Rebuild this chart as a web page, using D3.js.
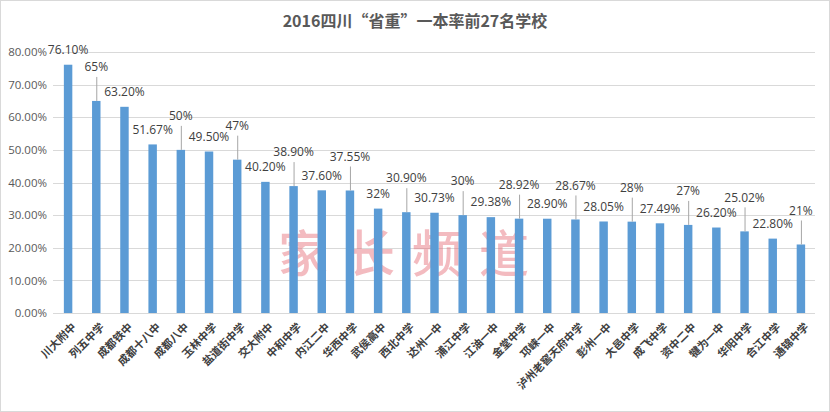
<!DOCTYPE html>
<html><head><meta charset="utf-8">
<script src="https://cdn.jsdelivr.net/npm/d3@7"></script>
<style>
html,body{margin:0;padding:0;background:#fff;}
svg{display:block;}
</style></head>
<body>
<svg id="chart" width="830" height="412"></svg>
<script>
const title = "2016四川“省重”一本率前27名学校";
const schools = ["川大附中","列五中学","成都铁中","成都十八中","成都八中","玉林中学","盐道街中学","交大附中","中和中学","内江二中","华西中学","武侯高中","西北中学","达州一中","浦江中学","江油一中","金堂中学","邛崃一中","泸州老窖天府中学","彭州一中","大邑中学","成飞中学","资中二中","犍为一中","华阳中学","合江中学","通锦中学"];
const rates = [76.10,65,63.20,51.67,50,49.50,47,40.20,38.90,37.60,37.55,32,30.90,30.73,30,29.38,28.92,28.90,28.67,28.05,28,27.49,27,26.20,25.02,22.80,21];
const rateLabels = ["76.10%","65%","63.20%","51.67%","50%","49.50%","47%","40.20%","38.90%","37.60%","37.55%","32%","30.90%","30.73%","30%","29.38%","28.92%","28.90%","28.67%","28.05%","28%","27.49%","27%","26.20%","25.02%","22.80%","21%"];
// schools whose value label sits higher, joined to the bar by a leader line
const leaderLabels = ["列五中学","成都八中","盐道街中学","中和中学","华西中学","西北中学","浦江中学","金堂中学","泸州老窖天府中学","大邑中学","资中二中","华阳中学","通锦中学"];
const yTicks = [0,10,20,30,40,50,60,70,80];
const watermark = "家长频道";

(function(){
const svg = d3.select("#chart");
const W = 830, H = 412;
const pL = 54, pR = 815, pT = 52, pB = 313;

svg.append("rect").attr("x",0.5).attr("y",0.5).attr("width",W-1).attr("height",H-1)
  .attr("fill","#fff").attr("stroke","#d9d9d9");

svg.append("text").attr("x",415).attr("y",27).attr("text-anchor","middle")
  .attr("font-family","'Noto Sans CJK SC','Noto Sans',sans-serif").attr("font-weight","bold")
  .attr("font-size",16).attr("fill","#595959").text(title);

const x = d3.scaleBand().domain(schools).range([pL,pR]).paddingInner(0.7).paddingOuter(0.35);
const y = d3.scaleLinear().domain([0,80]).range([pB,pT]);

svg.append("g").selectAll("line").data(yTicks).join("line")
  .attr("x1",pL-1).attr("x2",pR).attr("y1",d=>Math.round(y(d))+0.5).attr("y2",d=>Math.round(y(d))+0.5)
  .attr("stroke","#d9d9d9").attr("stroke-width",1);

const yAxis = d3.axisLeft(y).tickValues(yTicks).tickFormat(d=>d.toFixed(2)+"%").tickSize(0).tickPadding(0);
const gy = svg.append("g").attr("transform",`translate(${pL-7},0)`).call(yAxis);
gy.select(".domain").remove();
gy.selectAll("text").attr("font-family","'Open Sans','Noto Sans',sans-serif").attr("font-size",11.5).attr("fill","#595959");

svg.append("text").attr("x",412).attr("y",272).attr("text-anchor","middle")
  .attr("font-family","'Noto Sans CJK SC',sans-serif").attr("font-weight",500)
  .attr("font-size",50).attr("letter-spacing","17px").attr("fill","rgba(228,105,115,0.45)")
  .text(watermark);

svg.append("g").selectAll("rect").data(schools).join("rect")
  .attr("x",d=>x(d)).attr("width",x.bandwidth())
  .attr("y",(d,i)=>y(rates[i])).attr("height",(d,i)=>y(0)-y(rates[i]))
  .attr("fill","#5b9bd5");

const lab = svg.append("g");
schools.forEach((s,i)=>{
  const cx = x(s)+x.bandwidth()/2;
  const topY = y(rates[i]);
  const raised = leaderLabels.includes(s);
  const ly = raised ? topY-34 : topY-15;
  if(raised){
    lab.append("line").attr("x1",cx+0.5).attr("x2",cx+0.5).attr("y1",ly+10).attr("y2",topY)
      .attr("stroke","#a6a6a6").attr("stroke-width",1);
  }
  lab.append("text").attr("x",cx).attr("y",ly).attr("dy","0.35em").attr("text-anchor","middle")
    .attr("font-family","'Open Sans','Noto Sans',sans-serif").attr("font-size",12)
    .attr("fill","#404040").text(rateLabels[i]);
});

const gx = svg.append("g");
schools.forEach((s,i)=>{
  const cx = x(s)+x.bandwidth()/2;
  gx.append("text").attr("transform",`translate(${cx+6},${pB+12}) rotate(-45)`)
    .attr("text-anchor","end").attr("dy","0.35em")
    .attr("font-family","'Noto Sans CJK SC',sans-serif").attr("font-weight","bold")
    .attr("font-size",11).attr("fill","#404040").text(s);
});
})();
</script>
</body></html>
